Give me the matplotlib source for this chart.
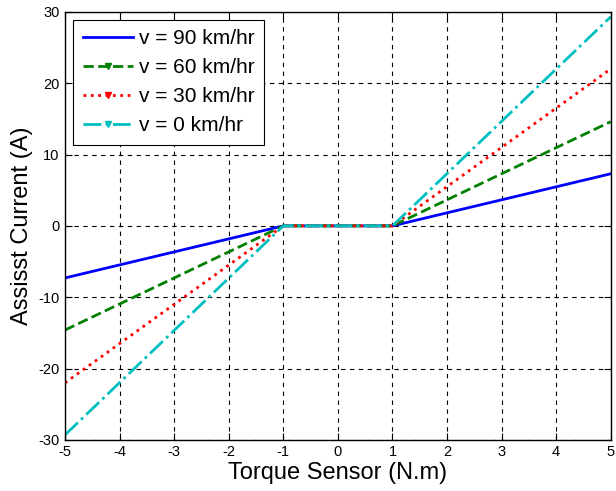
import numpy as np
import matplotlib
matplotlib.use('Agg')
import matplotlib.pyplot as plt
from matplotlib.lines import Line2D

plt.rcParams['font.family'] = ['Liberation Sans', 'DejaVu Sans']

# breakpoints of the assist curves (torque in N.m, current in A)
torque = [-5, -1, 1, 5]
i_90 = [-7.3, 0, 0, 7.3]
i_60 = [-14.6, 0, 0, 14.6]
i_30 = [-22.0, 0, 0, 22.0]
i_0 = [-29.3, 0, 0, 29.3]
labels = ['v = 90 km/hr', 'v = 60 km/hr', 'v = 30 km/hr', 'v = 0 km/hr']

xticks = np.arange(-5, 6, 1)
yticks = np.arange(-30, 31, 10)

colors = ['#0000ff', '#008000', '#ff0000', '#00bfbf']
styles = ['-', '--', ':', '-.']
markers = [None, 'v', 'v', 'v']

fig = plt.figure(figsize=(6.16, 4.91), dpi=100)
ax = fig.add_axes([0.1055, 0.104, 0.886, 0.872])

handles = []
for y, c, ls, m, lab in zip([i_90, i_60, i_30, i_0], colors, styles, markers, labels):
    ax.plot(torque, y, color=c, linestyle=ls, linewidth=2)
    handles.append(Line2D([], [], color=c, linestyle=ls, linewidth=2, marker=m,
                          markersize=4, label=lab))

ax.set_xlim(-5, 5)
ax.set_ylim(-30, 30)
ax.set_xticks(xticks)
ax.set_yticks(yticks)
ax.set_xticklabels([str(t) for t in xticks])
ax.set_yticklabels([str(t) for t in yticks])
ax.tick_params(direction='in', top=True, right=True, labelsize=10.5, length=5, pad=4)
ax.grid(True, color='black', linestyle=(0, (4, 4)), linewidth=0.8)
for s in ax.spines.values():
    s.set_linewidth(1.0)

ax.set_xlabel('Torque Sensor (N.m)', fontsize=17, labelpad=2)
ax.set_ylabel('Assisst Current (A)', fontsize=17, labelpad=4)

leg = ax.legend(handles=handles, loc='upper left', fontsize=15, fancybox=False,
                edgecolor='black', framealpha=1, handlelength=2.4, handletextpad=0.3,
                borderaxespad=0.4, labelspacing=0.48, borderpad=0.45)
leg.get_frame().set_linewidth(0.8)

fig.savefig('out.png', dpi=100)
